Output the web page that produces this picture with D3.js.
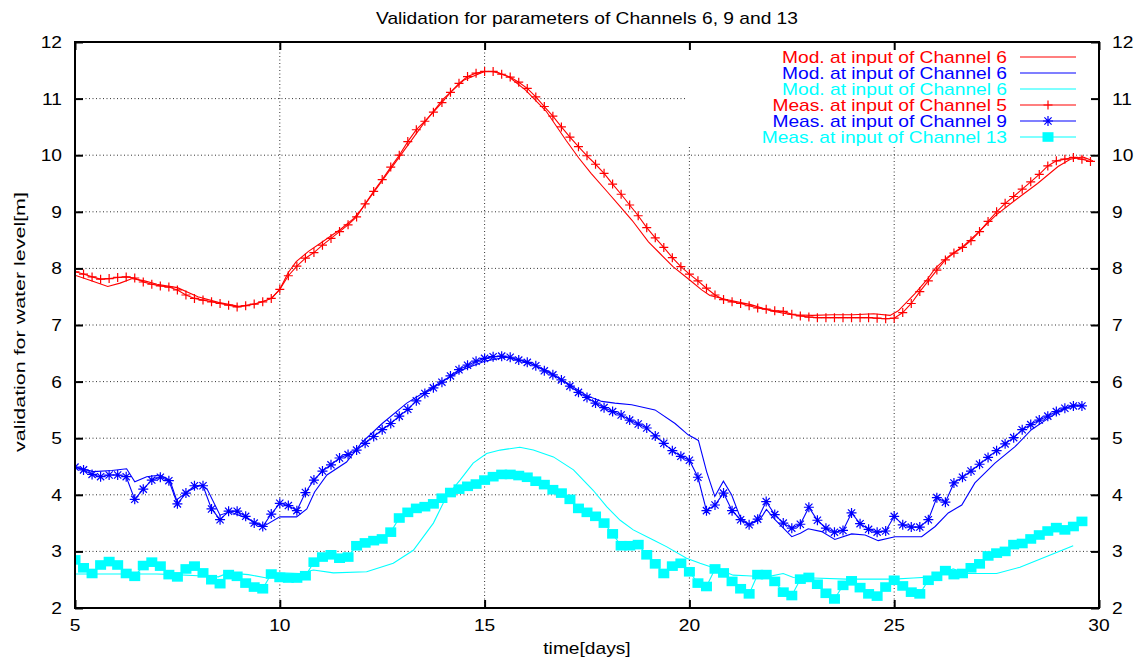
<!DOCTYPE html>
<html><head><meta charset="utf-8">
<script src="https://cdn.jsdelivr.net/npm/d3@7"></script>
<style>body{margin:0;background:#fff} svg{display:block}</style>
</head><body><svg id="c" width="1135" height="657"></svg>
<script>
// ---------------- DATA ----------------
const measStartDay = 5;      // first measurement (days)
const measStepHours = 5;     // measurement interval (hours)

const measRed = [7.94,7.90,7.85,7.81,7.82,7.84,7.85,7.83,7.76,7.72,7.69,7.67,7.62,7.53,7.47,7.44,7.41,7.38,7.35,7.32,7.34,7.37,7.41,7.47,7.63,
 7.87,8.04,8.18,8.28,8.41,8.53,8.65,8.77,8.91,9.14,9.36,9.57,9.79,10.00,10.24,
 10.45,10.60,10.76,10.93,11.11,11.27,11.39,11.45,11.48,11.48,11.43,11.38,11.29,11.18,11.03,10.86,10.69,10.50,10.32,10.15,9.99,9.84,9.68,9.49,9.31,9.12,8.93,8.72,8.54,8.37,8.19,8.03,7.90,7.78,7.65,7.53,7.45,7.41,7.38,7.34,
 7.30,7.28,7.25,7.24,7.19,7.16,7.14,7.13,7.13,7.13,7.13,7.13,7.13,7.13,7.12,7.11,7.12,7.22,7.38,7.59,7.78,7.97,8.15,8.27,8.37,8.49,8.65,8.83,9.00,9.15,9.27,9.40,9.53,9.66,9.81,9.90,9.93,9.96,9.93,9.89];

const measBlue = [4.49,4.44,4.36,4.32,4.35,4.35,4.32,3.92,4.10,4.26,4.31,4.25,3.84,4.03,4.16,4.16,3.75,3.56,3.71,3.71,3.62,3.50,3.44,3.66,3.85,3.81,3.72,4.04,4.26,4.42,4.53,4.65,4.71,4.79,4.91,5.03,5.15,5.26,5.39,5.51,5.66,
 5.79,5.89,5.99,6.10,6.21,6.29,6.36,6.41,6.44,6.45,6.43,6.38,6.34,6.28,6.19,6.12,6.03,5.92,5.81,5.72,5.62,5.54,5.47,5.41,5.32,5.25,5.18,5.04,4.91,4.78,4.68,4.61,4.31,3.72,3.82,4.03,3.72,3.56,3.47,3.57,
 3.88,3.65,3.50,3.41,3.48,3.78,3.55,3.41,3.34,3.37,3.68,3.49,3.39,3.34,3.36,3.62,3.47,3.43,3.43,3.56,3.95,3.87,4.21,4.31,4.42,4.54,4.66,4.78,4.90,5.01,5.15,5.24,5.32,5.39,5.47,5.53,5.57,5.57];

const measCyan = [2.85,2.71,2.61,2.76,2.82,2.76,2.61,2.56,2.75,2.81,2.74,2.59,2.55,2.69,2.74,2.62,2.50,2.43,2.59,2.56,2.44,2.37,2.34,2.60,2.54,2.53,2.53,2.57,2.81,2.90,2.94,2.88,2.90,3.10,3.15,3.19,3.22,3.34,3.59,3.69,3.76,
 3.79,3.84,3.94,4.04,4.10,4.15,4.19,4.26,4.32,4.36,4.36,4.34,4.31,4.24,4.18,4.09,4.03,3.92,3.76,3.69,3.62,3.50,3.31,3.10,3.10,3.12,2.94,2.78,2.61,2.74,2.79,2.64,2.44,2.38,2.69,2.62,2.47,2.34,2.25,2.59,
 2.59,2.47,2.28,2.22,2.51,2.54,2.42,2.26,2.16,2.40,2.48,2.36,2.25,2.21,2.37,2.49,2.39,2.28,2.25,2.49,2.56,2.66,2.59,2.61,2.71,2.78,2.92,2.97,3.00,3.12,3.14,3.22,3.29,3.36,3.42,3.38,3.44,3.53];

const modRedDays = [5.0,5.4,5.8,6.1,6.4,6.7,7.0,7.5,8.0,8.5,9.0,9.4,9.8,10.0,10.2,10.4,10.7,11.0,11.5,11.8,12.0,12.5,13.0,13.5,14.0,14.5,15.0,15.3,15.6,16.0,16.5,17.0,17.3,17.6,18.0,18.3,18.6,19.0,19.3,19.6,20.0,20.3,20.5,20.9,21.5,22.0,22.5,23.0,23.5,24.0,24.5,24.9,25.1,25.5,25.8,26.0,26.3,26.7,27.0,27.5,28.0,28.5,29.0,29.3,29.6,29.85];
const modRedVals = [7.88,7.78,7.68,7.74,7.82,7.78,7.72,7.66,7.50,7.40,7.33,7.37,7.47,7.63,7.92,8.12,8.30,8.45,8.70,8.88,9.05,9.55,10.05,10.55,11.00,11.33,11.48,11.47,11.38,11.15,10.78,10.25,9.95,9.68,9.35,9.10,8.85,8.47,8.25,8.03,7.80,7.62,7.52,7.45,7.36,7.25,7.18,7.17,7.18,7.18,7.20,7.17,7.25,7.55,7.80,8.00,8.20,8.40,8.60,8.95,9.23,9.50,9.80,9.93,9.97,9.90];

const modBlueDays = [5.0,5.45,5.9,6.26,6.46,6.75,7.08,7.32,7.48,7.73,8.05,8.22,8.54,8.78,9.11,9.6,10.0,10.41,10.66,10.85,11.15,11.63,12.0,12.5,13.1,13.5,14.0,14.5,15.0,15.5,16.0,16.5,17.0,17.5,17.86,18.18,18.59,19.16,19.65,19.97,20.22,20.42,20.62,20.83,21.03,21.23,21.44,21.72,21.88,22.09,22.5,22.71,22.9,23.23,23.55,23.96,24.29,24.61,25.02,25.67,26.0,26.32,26.65,26.97,27.46,27.95,28.35,28.76,29.17,29.41,29.58];
const modBlueVals = [4.49,4.41,4.43,4.46,4.23,4.32,4.35,4.25,3.91,4.05,4.17,4.11,3.64,3.70,3.61,3.44,3.61,3.61,3.75,4.05,4.35,4.58,4.92,5.26,5.62,5.80,6.02,6.22,6.36,6.43,6.36,6.20,5.98,5.75,5.65,5.62,5.59,5.50,5.26,5.06,4.96,4.41,3.97,4.24,4.00,3.62,3.47,3.56,3.74,3.56,3.26,3.32,3.40,3.35,3.21,3.31,3.29,3.19,3.26,3.26,3.44,3.68,3.82,4.21,4.56,4.85,5.15,5.35,5.53,5.59,5.58];

const modCyanDays = [5.0,6.0,7.0,7.44,8.0,8.5,8.74,9.23,9.68,9.8,10.0,10.49,10.82,11.31,12.12,12.77,13.26,13.75,14.07,14.4,14.72,15.05,15.38,15.86,16.19,16.68,17.17,17.65,17.98,18.31,18.63,19.12,19.45,19.93,20.26,20.75,21.07,21.4,21.89,22.29,22.54,23.03,23.84,24.98,25.47,25.95,26.44,26.77,27.5,28.07,28.72,29.37];
const modCyanVals = [2.60,2.60,2.60,2.59,2.57,2.55,2.62,2.59,2.53,2.62,2.62,2.61,2.67,2.62,2.64,2.79,3.02,3.50,3.97,4.26,4.56,4.73,4.79,4.84,4.79,4.67,4.44,4.08,3.79,3.55,3.38,3.20,3.08,2.88,2.79,2.67,2.58,2.57,2.55,2.61,2.54,2.53,2.51,2.51,2.53,2.55,2.69,2.61,2.61,2.72,2.91,3.10];

const xTicks = [5,10,15,20,25,30];
const yTicks = [2,3,4,5,6,7,8,9,10,11,12];
const titleText = "Validation for parameters of Channels 6, 9 and 13";
const xLabel = "time[days]";
const yLabel = "validation for water level[m]";
const legendLabels = ["Mod. at input of Channel 6","Mod. at input of Channel 6","Mod. at input of Channel 6",
  "Meas. at input of Channel 5","Meas. at input of Channel 9","Meas. at input of Channel 13"];

// ---------------- DRAW ----------------
const RED="#ff0000", BLUE="#0000ff", CYAN="#00ffff";
const FONT = "'Liberation Sans', Arial, Helvetica, sans-serif";
const FS = 16, SX = 1.2;
const L=75, R=1099, T=42, B=608;

const svg = d3.select("#c");
svg.append("rect").attr("width",1135).attr("height",657).attr("fill","#fff");

const x = d3.scaleLinear().domain([5,30]).range([L,R]);
const y = d3.scaleLinear().domain([2,12]).range([B,T]);

function label(px, py, txt, anchor, color, transformExtra, fs) {
  return svg.append("text")
    .attr("transform", `translate(${px},${py}) ` + (transformExtra || `scale(${SX},1)`))
    .attr("text-anchor", anchor).attr("fill", color || "#000")
    .style("font-family", FONT).style("font-size", (fs||FS)+"px").text(txt);
}

// grid
const grid = svg.append("g");
grid.selectAll("line.gx").data(xTicks.filter(d=>d>5 && d<30)).join("line")
  .attr("x1",d=>x(d)).attr("x2",d=>x(d)).attr("y1",T).attr("y2",B);
grid.selectAll("line.gy").data(yTicks.filter(d=>d>2 && d<12)).join("line").attr("class","gy")
  .attr("y1",d=>y(d)).attr("y2",d=>y(d)).attr("x1",L).attr("x2",R);
grid.selectAll("line").attr("stroke","#333").attr("stroke-width",1).attr("stroke-dasharray","1,2.5");

// key blank area
const keyLeft = 686, keyBottom = 146;
svg.append("rect").attr("x",keyLeft).attr("y",T).attr("width",R-keyLeft).attr("height",keyBottom-T).attr("fill","#fff");

// data
svg.append("clipPath").attr("id","clip").append("rect").attr("x",L).attr("y",T).attr("width",R-L).attr("height",B-T);
const plot = svg.append("g").attr("clip-path","url(#clip)");
const line = d3.line().x(d=>x(d[0])).y(d=>y(d[1]));
const measDay = i => measStartDay + i*measStepHours/24;
const meas = arr => arr.map((v,i)=>[measDay(i), v]);
const zip = (a,b) => a.map((d,i)=>[d,b[i]]);

function drawLine(data, color) {
  plot.append("path").attr("d", line(data)).attr("fill","none").attr("stroke",color).attr("stroke-width",1.1);
}
const plusPath = "M-4.5,0H4.5M0,-4.5V4.5";
const starPath = "M-5,0H5M0,-5V5M-3.6,-3.6L3.6,3.6M-3.6,3.6L3.6,-3.6";
function drawMarkers(data, kind, color, g) {
  const sel = (g||plot).append("g").selectAll("g").data(data).join("g")
    .attr("transform", d=>`translate(${x(d[0])},${y(d[1])})`);
  if (kind==="square") sel.append("rect").attr("x",-5.5).attr("y",-4.8).attr("width",11).attr("height",9.6).attr("fill",color);
  else sel.append("path").attr("d", kind==="plus"?plusPath:starPath).attr("stroke",color).attr("stroke-width",1.2).attr("fill","none");
}

drawLine(zip(modRedDays,modRedVals), RED);
drawLine(zip(modBlueDays,modBlueVals), BLUE);
drawLine(zip(modCyanDays,modCyanVals), CYAN);
drawLine(meas(measRed), RED);   drawMarkers(meas(measRed), "plus", RED);
drawLine(meas(measBlue), BLUE); drawMarkers(meas(measBlue), "star", BLUE);
drawLine(meas(measCyan), CYAN); drawMarkers(meas(measCyan), "square", CYAN);

// axes ticks (inward)
const tickG = svg.append("g");
tickG.append("g").attr("transform",`translate(${L},0)`).call(d3.axisLeft(y).tickValues(yTicks).tickSize(-8).tickFormat(""));
tickG.append("g").attr("transform",`translate(${R},0)`).call(d3.axisRight(y).tickValues(yTicks).tickSize(-8).tickFormat(""));
tickG.append("g").attr("transform",`translate(0,${B})`).call(d3.axisBottom(x).tickValues(xTicks).tickSize(-8).tickFormat(""));
tickG.append("g").attr("transform",`translate(0,${T})`).call(d3.axisTop(x).tickValues(xTicks).tickSize(-8).tickFormat(""));
tickG.selectAll(".domain").remove();
tickG.selectAll(".tick line").attr("stroke","#000").attr("stroke-width",2);

// border
svg.append("rect").attr("x",L).attr("y",T).attr("width",R-L).attr("height",B-T)
  .attr("fill","none").attr("stroke","#000").attr("stroke-width",2);

// tick labels
yTicks.forEach(v => {
  label(L-13, y(v)+6, String(v), "end");
  label(R+13, y(v)+6, String(v), "start");
});
xTicks.forEach(v => label(x(v), B+23, String(v), "middle"));

// titles
label((L+R)/2, 24, titleText, "middle");
label((L+R)/2, 654, xLabel, "middle");
label(25, 322, yLabel, "middle", "#000", `rotate(-90) scale(1.43,1.03)`, 15);

// legend
const legColors=[RED,BLUE,CYAN,RED,BLUE,CYAN];
const legKinds=[null,null,null,"plus","star","square"];
const lg = svg.append("g");
legendLabels.forEach((t,i)=>{
  const cy = 57 + i*16;
  label(1007, cy+5.5, t, "end", legColors[i]);
  lg.append("line").attr("x1",1020).attr("x2",1076).attr("y1",cy).attr("y2",cy).attr("stroke",legColors[i]).attr("stroke-width",1.1);
  if (legKinds[i]) {
    const m = lg.append("g").attr("transform",`translate(1048,${cy})`);
    if (legKinds[i]==="square") m.append("rect").attr("x",-5.5).attr("y",-4.8).attr("width",11).attr("height",9.6).attr("fill",CYAN);
    else m.append("path").attr("d", legKinds[i]==="plus"?plusPath:starPath).attr("stroke",legColors[i]).attr("stroke-width",1.2);
  }
});
</script></body></html>
